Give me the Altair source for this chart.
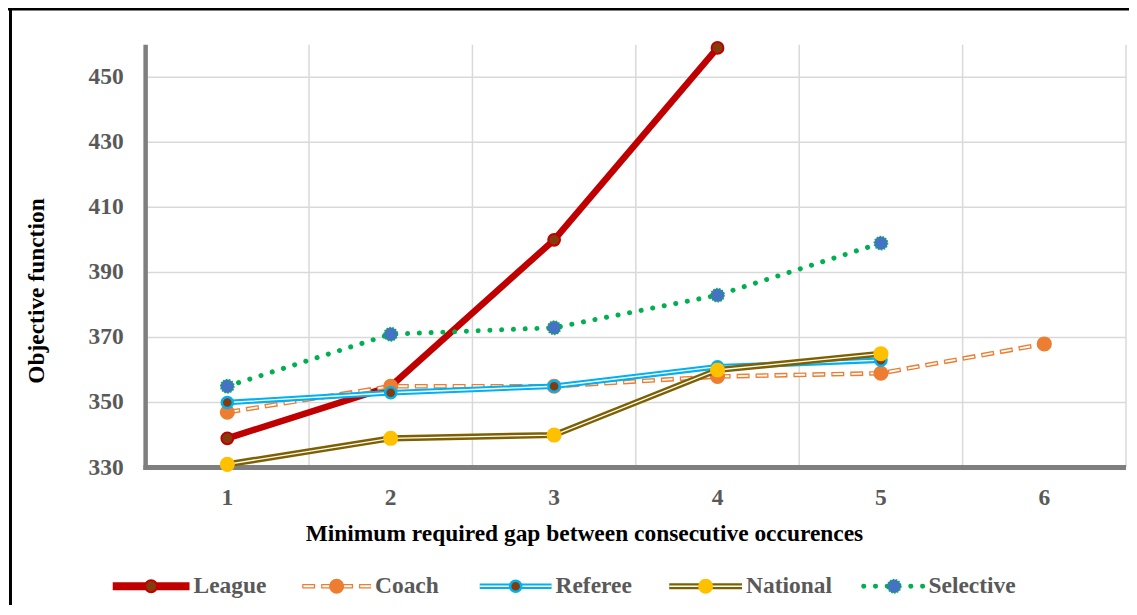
import altair as alt
import pandas as pd

# ---------------- data ----------------
gaps = [1, 2, 3, 4, 5, 6]
series_names = ["League", "Coach", "Referee", "National", "Selective"]
league = [339, 355, 400, 459]
coach = [347, 355, 355, 358, 359, 368]
referee = [350, 353, 355, 361, 363]
national = [331, 339, 340, 360, 365]
selective = [355, 371, 373, 383, 399]
y_ticks = [330, 350, 370, 390, 410, 430, 450]
x_title = "Minimum required gap between consecutive occurences"
y_title = "Objective function"

series_values = {
    "League": league,
    "Coach": coach,
    "Referee": referee,
    "National": national,
    "Selective": selective,
}

# ---------------- layout / style ----------------
FONT = "Liberation Serif"
FS = 23.5
W, H = 983, 424
X_MIN, X_MAX = 0.5, 6.5
Y_MIN, Y_MAX = 330, 460
LEG_Y = 543
leg_start = [-33, 157, 335, 525, 720]
leg_end = [44, 226, 407, 598, 781]
GRID = "#D9D9D9"
AXIS = "#7F7F7F"
LABEL = "#595959"


def px_to_x(p):
    return X_MIN + p * (X_MAX - X_MIN) / W


def px_to_y(p):
    return Y_MAX - p * (Y_MAX - Y_MIN) / H


styles = {
    "League": dict(
        strokes=[dict(color="#C00000", strokeWidth=6.5)],
        leg=[dict(color="#C00000", strokeWidth=8)],
        pt=dict(fill="#843C0C", stroke="#C00000", strokeWidth=2, size=140),
    ),
    "Coach": dict(
        strokes=[dict(color="#ED7D31", strokeWidth=4.6, strokeDash=[13, 6]),
                 dict(color="white", strokeWidth=1.8, strokeDash=[10.5, 8.5], strokeDashOffset=17.8)],
        leg=None,
        pt=dict(fill="#ED7D31", size=230),
    ),
    "Referee": dict(
        strokes=[dict(color="#00B0F0", strokeWidth=5.5), dict(color="white", strokeWidth=1.3)],
        leg=None,
        pt=dict(fill="#843C0C", stroke="#00B0F0", strokeWidth=2.5, size=125),
    ),
    "National": dict(
        strokes=[dict(color="#7F6000", strokeWidth=6.2), dict(color="white", strokeWidth=1.3)],
        leg=None,
        pt=dict(fill="#FFC000", size=230),
    ),
    "Selective": dict(
        strokes=[dict(color="#00B050", strokeWidth=5, strokeDash=[0.1, 11.7], strokeCap="round")],
        leg=None,
        pt=dict(fill="#4472C4", stroke="#00B050", strokeWidth=1.5, strokeDash=[1.5, 1.5], size=180),
    ),
}

xs = alt.Scale(domain=[X_MIN, X_MAX], nice=False, zero=False)
ys = alt.Scale(domain=[Y_MIN, Y_MAX], nice=False, zero=False)


def X(field):
    return alt.X(field, type="quantitative", scale=xs, axis=None)


def Y(field):
    return alt.Y(field, type="quantitative", scale=ys, axis=None)


layers = []

# ---------------- grid ----------------
grid_x = [g - 0.5 for g in gaps] + [gaps[-1] + 0.5]
vg_df = pd.DataFrame({"gx": grid_x, "gy0": [Y_MIN] * len(grid_x), "gy1": [Y_MAX] * len(grid_x)})
layers.append(alt.Chart(vg_df).mark_rule(color=GRID, strokeWidth=1.5).encode(
    x=X("gx"), y=Y("gy0"), y2="gy1"))
hg_df = pd.DataFrame({"gy": y_ticks, "gx0": [X_MIN] * len(y_ticks), "gx1": [X_MAX] * len(y_ticks)})
layers.append(alt.Chart(hg_df).mark_rule(color=GRID, strokeWidth=1.5).encode(
    x=X("gx0"), x2="gx1", y=Y("gy")))

# ---------------- axis lines ----------------
xd_df = pd.DataFrame({"x0": [px_to_x(-2.25)], "x1": [X_MAX], "y": [Y_MIN]})
layers.append(alt.Chart(xd_df).mark_rule(color=AXIS, strokeWidth=5).encode(
    x=X("x0"), x2="x1", y=Y("y")))
yd_df = pd.DataFrame({"x": [X_MIN], "y0": [px_to_y(H + 2.5)], "y1": [Y_MAX]})
layers.append(alt.Chart(yd_df).mark_rule(color=AXIS, strokeWidth=4.5).encode(
    x=X("x"), y=Y("y0"), y2="y1"))

# ---------------- tick labels and titles ----------------
xl_df = pd.DataFrame({"gap": gaps, "ly": [px_to_y(H + 19)] * len(gaps), "lab": [str(g) for g in gaps]})
layers.append(alt.Chart(xl_df).mark_text(
    align="center", baseline="top", font=FONT, fontSize=FS, fontWeight="bold", color=LABEL
).encode(x=X("gap"), y=Y("ly"), text="lab:N"))
yl_df = pd.DataFrame({"yt": y_ticks, "lx": [px_to_x(-22)] * len(y_ticks), "lab": [str(v) for v in y_ticks]})
layers.append(alt.Chart(yl_df).mark_text(
    align="right", baseline="middle", font=FONT, fontSize=FS, fontWeight="bold", color=LABEL
).encode(x=X("lx"), y=Y("yt"), text="lab:N"))

xt_df = pd.DataFrame({"tx": [px_to_x(440)], "ty": [px_to_y(H + 67)], "t": [x_title]})
layers.append(alt.Chart(xt_df).mark_text(
    align="center", baseline="middle", font=FONT, fontSize=FS, fontWeight="bold", color="black"
).encode(x=X("tx"), y=Y("ty"), text="t:N"))
yt_df = pd.DataFrame({"tx": [px_to_x(-109)], "ty": [px_to_y(247)], "t": [y_title]})
layers.append(alt.Chart(yt_df).mark_text(
    align="center", baseline="middle", angle=270, font=FONT, fontSize=FS, fontWeight="bold", color="black"
).encode(x=X("tx"), y=Y("ty"), text="t:N"))

# ---------------- series ----------------
for name in series_names:
    vals = series_values[name]
    df = pd.DataFrame({"gap": gaps[:len(vals)], "value": vals, "series": name})
    st = styles[name]
    for sk in st["strokes"]:
        layers.append(alt.Chart(df).mark_line(**sk).encode(x=X("gap"), y=Y("value")))
    layers.append(alt.Chart(df).mark_circle(opacity=1, **st["pt"]).encode(x=X("gap"), y=Y("value")))

# ---------------- legend ----------------
legend_df = pd.DataFrame({
    "series": series_names,
    "x0": [px_to_x(p) for p in leg_start],
    "x1": [px_to_x(p) for p in leg_end],
    "xt": [px_to_x(p + 4) for p in leg_end],
    "ly": [px_to_y(LEG_Y)] * len(series_names),
})
legend_df["xm"] = (legend_df["x0"] + legend_df["x1"]) / 2

for name in series_names:
    st = styles[name]
    base = alt.Chart(legend_df).transform_filter(alt.datum.series == name)
    for sk in (st["leg"] or st["strokes"]):
        layers.append(base.mark_rule(**sk).encode(x=X("x0"), x2="x1", y=Y("ly")))
    layers.append(base.mark_circle(opacity=1, **st["pt"]).encode(x=X("xm"), y=Y("ly")))
    layers.append(base.mark_text(
        align="left", baseline="middle", font=FONT, fontSize=FS, fontWeight="bold", color=LABEL
    ).encode(x=X("xt"), y=Y("ly"), text="series:N"))

# ---------------- frame ----------------
top_df = pd.DataFrame({"fx0": [px_to_x(-140)], "fx1": [px_to_x(1000)], "fy": [px_to_y(-35.5)]})
layers.append(alt.Chart(top_df).mark_rule(color="black", strokeWidth=2.5).encode(
    x=X("fx0"), x2="fx1", y=Y("fy")))
left_df = pd.DataFrame({"fx": [px_to_x(-135.5)], "fy0": [px_to_y(-40)], "fy1": [px_to_y(600)]})
layers.append(alt.Chart(left_df).mark_rule(color="black", strokeWidth=3).encode(
    x=X("fx"), y=Y("fy0"), y2="fy1"))

chart = alt.layer(*layers).properties(
    width=W, height=H,
    autosize=alt.AutoSizeParams(type="none"),
    padding={"left": 138, "top": 36, "right": 3, "bottom": 137},
    background="white",
).configure_view(strokeOpacity=0)

chart.save("out.html", embed_options={"renderer": "svg", "actions": False})
